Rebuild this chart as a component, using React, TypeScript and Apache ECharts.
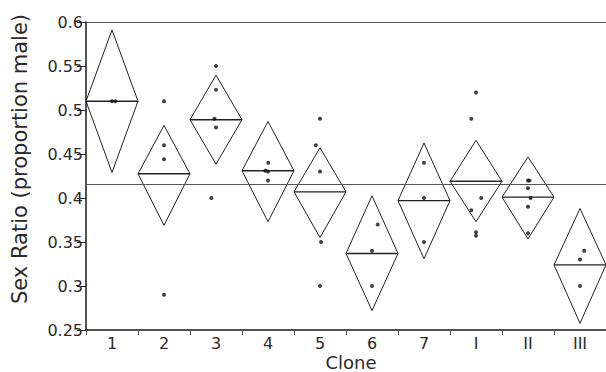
import React, { useEffect, useRef } from "react";
import * as echarts from "echarts";

const clones = ["1", "2", "3", "4", "5", "6", "7", "I", "II", "III"];
const yTicks = [0.25, 0.3, 0.35, 0.4, 0.45, 0.5, 0.55, 0.6];

// diamond: mean, lower and upper confidence limits per clone
const means = [0.51, 0.4275, 0.489, 0.431, 0.407, 0.337, 0.397, 0.419, 0.401, 0.324];
const lowers = [0.429, 0.369, 0.4385, 0.373, 0.355, 0.272, 0.331, 0.373, 0.3535, 0.2576];
const uppers = [0.591, 0.4825, 0.5395, 0.487, 0.457, 0.4025, 0.4625, 0.4655, 0.4467, 0.388];
const grandMean = 0.4155;

// individual observations per clone, with small horizontal jitter
const obsValues = [
  [0.51, 0.51],
  [0.51, 0.46, 0.444, 0.29],
  [0.55, 0.523, 0.49, 0.48, 0.4],
  [0.44, 0.431, 0.43, 0.42],
  [0.49, 0.46, 0.43, 0.35, 0.3],
  [0.37, 0.34, 0.3],
  [0.44, 0.4, 0.35],
  [0.52, 0.49, 0.4, 0.386, 0.361, 0.357],
  [0.42, 0.42, 0.411, 0.4, 0.39, 0.36],
  [0.34, 0.33, 0.3],
];
const obsJitter = [
  [0.0, 0.065],
  [0, 0, 0, 0],
  [0, 0, -0.03, 0, -0.09],
  [0.005, -0.05, 0, 0],
  [0, -0.08, 0, 0.02, 0],
  [0.11, 0, 0],
  [0, 0, 0],
  [0, -0.09, 0.1, -0.09, 0, 0],
  [0, 0.03, 0, 0.05, 0, 0],
  [0.08, 0, 0],
];

const FONT = "DejaVu Sans";

export default function App() {
  const ref = useRef<HTMLDivElement>(null);
  useEffect(() => {
    if (!ref.current) return;
    const chart = echarts.init(ref.current, null, { renderer: "svg" });

    const diamondData = clones.map((_, i) => [i, means[i], lowers[i], uppers[i]]);
    const scatterData: number[][] = [];
    obsValues.forEach((vals, i) => {
      vals.forEach((v, j) => scatterData.push([i + obsJitter[i][j], v]));
    });

    chart.setOption({
      animation: false,
      grid: { left: 86, top: 22, width: 523, height: 308, containLabel: false },
      xAxis: [
        {
          type: "category",
          data: clones,
          boundaryGap: true,
          axisLine: { lineStyle: { color: "#1a1a1a", width: 1.5 } },
          axisTick: { show: true, interval: 0, alignWithLabel: false, length: 5, lineStyle: { color: "#555", width: 1 } },
          axisLabel: { fontFamily: FONT, fontSize: 16, color: "#2a2a2a", margin: 5, interval: 0 },
          splitLine: { show: false },
        },
        {
          type: "value",
          min: -0.5,
          max: 9.5,
          show: false,
        },
      ],
      yAxis: {
        type: "value",
        min: 0.25,
        max: 0.6,
        interval: 0.05,
        axisLine: { show: true, onZero: false, lineStyle: { color: "#1a1a1a", width: 1.5 } },
        axisTick: { show: true, length: 9, lineStyle: { color: "#1a1a1a", width: 1 } },
        axisLabel: {
          fontFamily: FONT,
          fontSize: 16,
          color: "#2a2a2a",
          margin: 3,
          formatter: (v: number) => {
            const t = yTicks.find((x) => Math.abs(x - v) < 1e-6);
            return t === undefined ? "" : String(t);
          },
        },
        splitLine: { show: false },
      },
      series: [
        {
          type: "custom",
          xAxisIndex: 1,
          data: diamondData,
          renderItem: (params: any, api: any) => {
            const i = api.value(0);
            const m = api.value(1);
            const lo = api.value(2);
            const hi = api.value(3);
            const l = api.coord([i - 0.5, m]);
            const r = api.coord([i + 0.5, m]);
            const t = api.coord([i, hi]);
            const b = api.coord([i, lo]);
            return {
              type: "group",
              children: [
                {
                  type: "polygon",
                  shape: { points: [l, t, r, b] },
                  style: { fill: "none", stroke: "#222", lineWidth: 1 },
                },
                {
                  type: "line",
                  shape: { x1: l[0], y1: l[1], x2: r[0], y2: r[1] },
                  style: { stroke: "#222", lineWidth: 1.4 },
                },
              ],
            };
          },
          markLine: {
            silent: true,
            symbol: "none",
            precision: 5,
            label: { show: false },
            lineStyle: { color: "#555", width: 1, type: "solid" },
            data: [{ yAxis: grandMean }, { yAxis: 0.6 }],
          },
          z: 2,
        },
        {
          type: "scatter",
          xAxisIndex: 1,
          data: scatterData,
          symbolSize: 4,
          itemStyle: { color: "#111" },
          z: 3,
        },
      ],
      graphic: [
        {
          type: "text",
          x: 351,
          y: 362.5,
          style: {
            text: "Clone",
            fontFamily: FONT,
            fontSize: 18,
            fill: "#2a2a2a",
            textAlign: "center",
            textVerticalAlign: "middle",
          },
        },
        {
          type: "text",
          x: 20,
          y: 159,
          rotation: Math.PI / 2,
          style: {
            text: "Sex Ratio (proportion male)",
            fontFamily: FONT,
            fontSize: 21,
            fill: "#2a2a2a",
            textAlign: "center",
            textVerticalAlign: "middle",
          },
        },
      ],
    });
    return () => chart.dispose();
  }, []);
  return <div ref={ref} style={{ width: 606, height: 372, position: "absolute", left: 0, top: 0 }} />;
}
